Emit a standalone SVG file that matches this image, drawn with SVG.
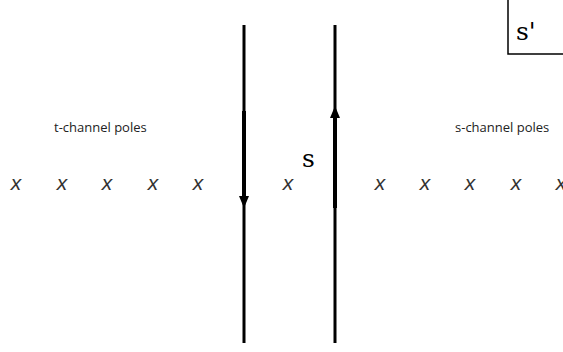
<svg xmlns="http://www.w3.org/2000/svg" width="563" height="352" viewBox="0 0 563 352">
<style>
.lbl{font-family:"Open Sans","Liberation Sans",sans-serif;font-size:13px;fill:#222}
.pole{font-family:"Liberation Sans",sans-serif;font-style:italic;font-size:21px;fill:#333;text-anchor:middle}
.var{font-family:"DejaVu Serif","Liberation Serif",serif;font-size:25px;fill:#000}
.thin{stroke:#000;stroke-width:3;fill:none}
.thick{stroke:#000;stroke-width:4;fill:none}
</style>
<rect width="563" height="352" fill="#fff"/>
<g id="sprime-box">
<path d="M508,-2 V54 H565" fill="none" stroke="#000" stroke-width="1.5"/>
<text class="var" x="516" y="40">s'</text>
</g>
<g id="connectors">
<line class="thin" x1="244" y1="25" x2="244" y2="343"/>
<line class="thick" x1="244" y1="111" x2="244" y2="200"/>
<polygon points="239,196 249,196 244,208" fill="#000"/>
<line class="thin" x1="335" y1="25" x2="335" y2="343"/>
<line class="thick" x1="335" y1="115" x2="335" y2="208"/>
<polygon points="330,118 340,118 335,106" fill="#000"/>
</g>
<g id="label-s"><text class="var" x="302" y="167">s</text></g>
<g id="t-label"><text class="lbl" x="54" y="132">t-channel poles</text></g>
<g id="s-label"><text class="lbl" x="455" y="132">s-channel poles</text></g>
<g id="t-poles">
<text class="pole" x="16" y="190">x</text>
<text class="pole" x="62" y="190">x</text>
<text class="pole" x="107" y="190">x</text>
<text class="pole" x="153" y="190">x</text>
<text class="pole" x="198" y="190">x</text>
</g>
<g id="mid-pole"><text class="pole" x="288" y="190">x</text></g>
<g id="s-poles">
<text class="pole" x="380" y="190">x</text>
<text class="pole" x="425" y="190">x</text>
<text class="pole" x="470" y="190">x</text>
<text class="pole" x="516" y="190">x</text>
<text class="pole" x="561" y="190">x</text>
</g>
</svg>
